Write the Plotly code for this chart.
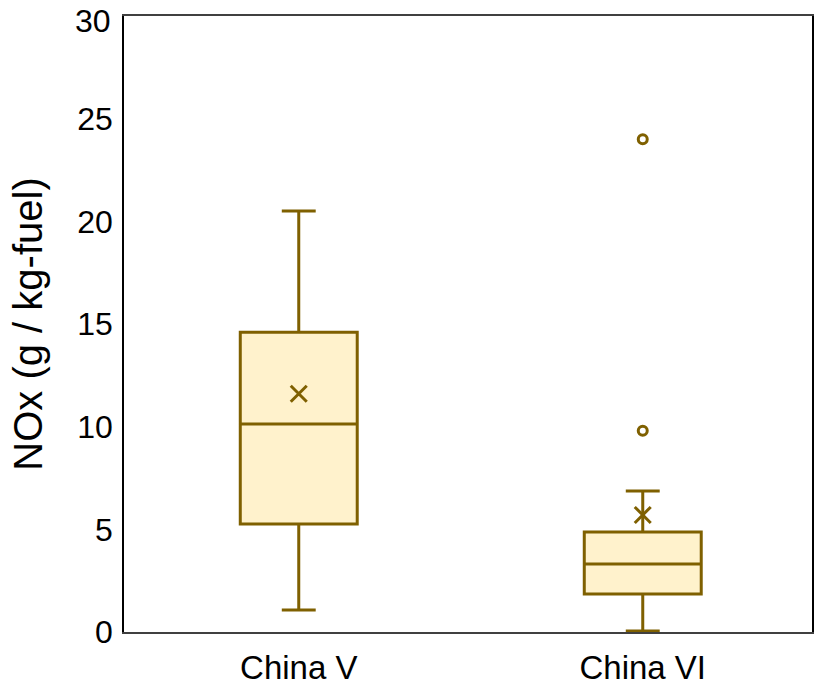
import plotly.graph_objects as go

categories = ["China V", "China VI"]
q1 = [5.26, 1.85]
median = [10.13, 3.31]
q3 = [14.6, 4.87]
lower_fence = [1.07, 0.05]
upper_fence = [20.5, 6.87]
means = [11.6, 5.7]
outlier_cat = ["China VI", "China VI"]
outlier_val = [24.0, 9.8]
y_ticks = [0, 5, 10, 15, 20, 25]
y_top = 30

line_color = "#7F6000"
fill_color = "#FFF2CC"

fig = go.Figure()
fig.add_trace(go.Box(
    x=categories, q1=q1, median=median, q3=q3,
    lowerfence=lower_fence, upperfence=upper_fence,
    fillcolor=fill_color, line=dict(color=line_color, width=3),
    whiskerwidth=0.29, boxpoints=False, showlegend=False, hoverinfo="y",
))
fig.add_trace(go.Scatter(
    x=categories, y=means, mode="markers", showlegend=False,
    marker=dict(symbol="x-thin-open", size=16, color=line_color,
                line=dict(color=line_color, width=3)),
))
fig.add_trace(go.Scatter(
    x=outlier_cat, y=outlier_val, mode="markers", showlegend=False,
    marker=dict(symbol="circle-open", size=9, color=line_color,
                line=dict(color=line_color, width=3)),
))

fig.add_annotation(
    x=0, xref="paper", y=y_top, yref="y", text=str(y_top),
    showarrow=False, xanchor="right", yanchor="middle",
    xshift=-11, yshift=-5, font=dict(size=32),
)

fig.update_layout(
    width=814, height=685, autosize=False,
    margin=dict(l=124, r=2, t=16, b=53),
    paper_bgcolor="white", plot_bgcolor="white",
    boxgap=0.66, boxgroupgap=0,
    font=dict(family="Liberation Sans, Arial, sans-serif", color="black"),
    xaxis=dict(
        type="category", showline=True, linecolor="#404040", linewidth=2,
        mirror=True, showgrid=False, ticks="", tickfont=dict(size=33),
        range=[-0.508, 1.492], ticklabelstandoff=5, automargin=False,
    ),
    yaxis=dict(
        range=[0, y_top], tickvals=y_ticks,
        showline=True, linecolor="black", linewidth=1.5, mirror=True,
        showgrid=False, zeroline=False, ticks="", tickfont=dict(size=32),
        ticklabelstandoff=3, automargin=False,
        title=dict(text="NOx (g / kg-fuel)", font=dict(size=40), standoff=22),
    ),
)

fig.write_html(
    "out.html",
    config={"responsive": False, "displayModeBar": False},
    post_script="document.body.style.margin='0';document.body.style.padding='0';"
                "var gd=document.getElementById('{plot_id}');"
                "Plotly.relayout(gd,{width:814,height:685});",
)
